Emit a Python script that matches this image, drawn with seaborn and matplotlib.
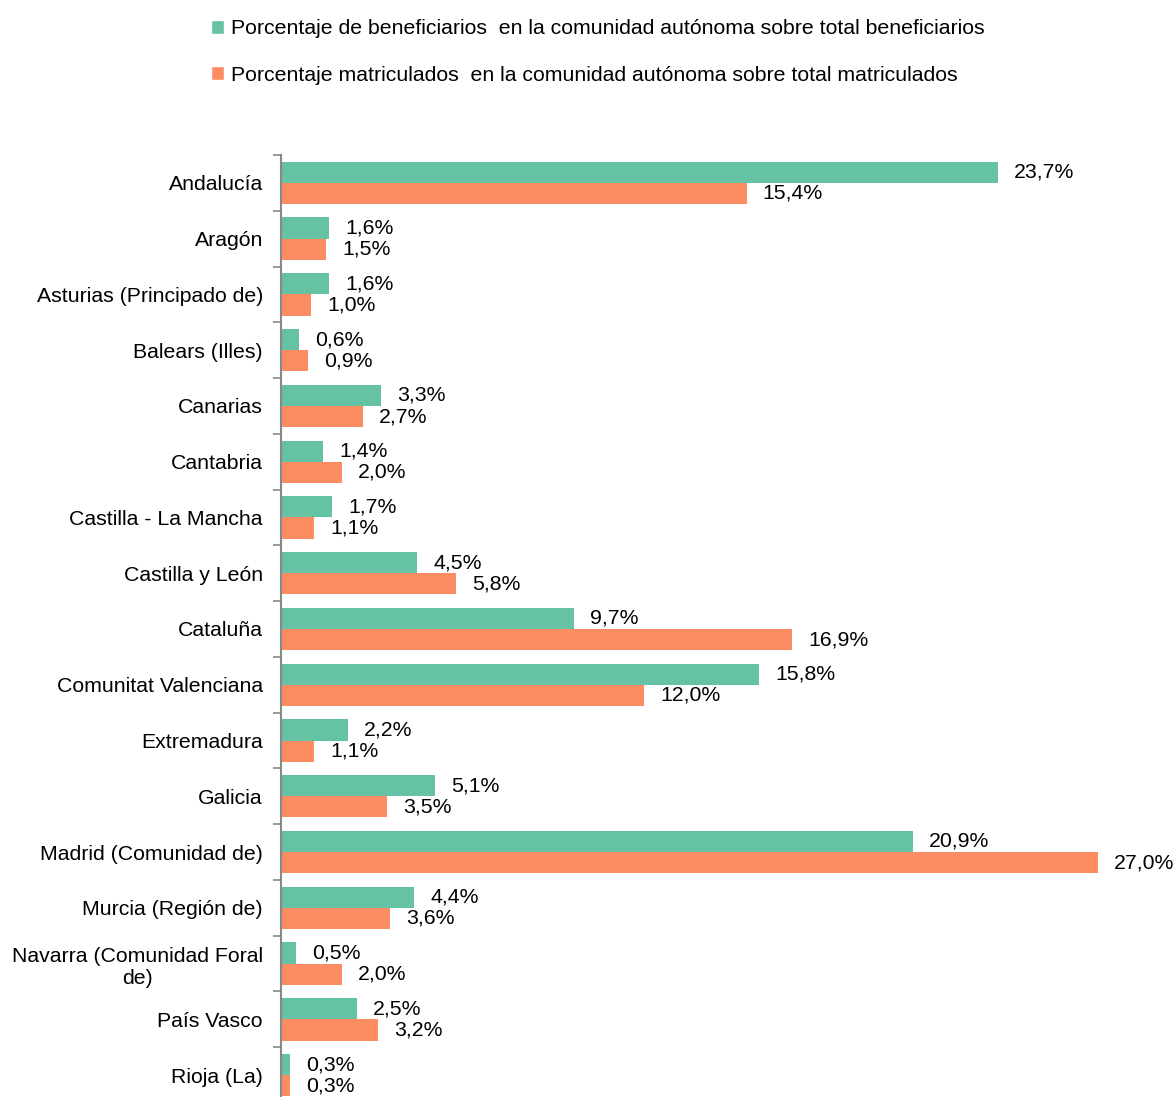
import pandas as pd
import numpy as np
import matplotlib.pyplot as plt
import seaborn as sns
from matplotlib.patches import Patch

# Data
regions = ["Andalucía", "Aragón", "Asturias (Principado de)", "Balears (Illes)",
           "Canarias", "Cantabria", "Castilla - La Mancha", "Castilla y León",
           "Cataluña", "Comunitat Valenciana", "Extremadura", "Galicia",
           "Madrid (Comunidad de)", "Murcia (Región de)",
           "Navarra (Comunidad Foral\nde)", "País Vasco", "Rioja (La)"]
beneficiarios = [23.7, 1.6, 1.6, 0.6, 3.3, 1.4, 1.7, 4.5, 9.7, 15.8,
                 2.2, 5.1, 20.9, 4.4, 0.5, 2.5, 0.3]
matriculados = [15.4, 1.5, 1.0, 0.9, 2.7, 2.0, 1.1, 5.8, 16.9, 12.0,
                1.1, 3.5, 27.0, 3.6, 2.0, 3.2, 0.3]
series = ["Porcentaje de beneficiarios  en la comunidad autónoma sobre total beneficiarios",
          "Porcentaje matriculados  en la comunidad autónoma sobre total matriculados"]
colors = ["#66C2A5", "#FC8D62"]

df = pd.DataFrame({
    "region": regions * 2,
    "valor": beneficiarios + matriculados,
    "serie": [series[0]] * len(regions) + [series[1]] * len(regions),
})

sns.set_style("white")
plt.rcParams["font.family"] = ["Liberation Sans", "DejaVu Sans"]
fs = 15.3

fig = plt.figure(figsize=(11.76, 10.97), dpi=100)
# axes runs slightly past the bottom edge, as in the original
ax = fig.add_axes([281 / 1176, -6 / 1097, 1 - 281 / 1176, (1097 - 155 + 6) / 1097])

sns.barplot(data=df, y="region", x="valor", hue="serie", palette=colors,
            orient="h", width=0.76, ax=ax, legend=False, saturation=1, linewidth=0)

for cont, vals in zip(ax.containers, [beneficiarios, matriculados]):
    labels = [f"{v:.1f}%".replace(".", ",") for v in vals]
    ax.bar_label(cont, labels=labels, padding=11.5, fontsize=fs, color="black")

ax.set_xlim(0, (1176 - 281) / 30.25)
ax.set_ylim(len(regions) - 0.5, -0.5)
ax.set_xlabel("")
ax.set_ylabel("")
ax.set_xticks([])

# ticks between categories
ax.set_yticks(np.arange(len(regions)))
ax.set_yticklabels(regions, fontsize=fs, multialignment="center", color="black")
ax.set_yticks(np.arange(-0.5, len(regions), 1), minor=True)
ax.tick_params(axis="y", which="major", length=0, pad=13)
ax.tick_params(axis="y", which="minor", length=6, color="#888888", width=1.2, left=True)

for s in ["top", "right", "bottom"]:
    ax.spines[s].set_visible(False)
ax.spines["left"].set_color("#888888")
ax.spines["left"].set_linewidth(1.5)

handles = [Patch(facecolor=c, label=s) for c, s in zip(colors, series)]
fig.legend(handles=handles, loc="upper center", bbox_to_anchor=(0.508, 1.0),
           ncol=1, frameon=False, fontsize=fs, handlelength=0.65, handleheight=0.65,
           handletextpad=0.3, labelspacing=1.3, labelcolor="black")

plt.savefig("out.png", dpi=100)
plt.close()
